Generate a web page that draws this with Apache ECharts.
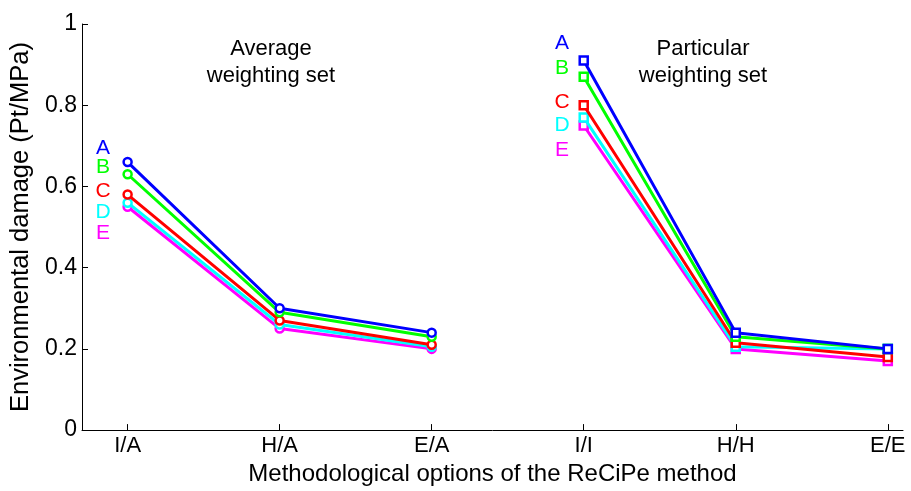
<!DOCTYPE html>
<html><head><meta charset="utf-8">
<script src="https://cdn.jsdelivr.net/npm/echarts@6/dist/echarts.min.js"></script>
<style>html,body{margin:0;padding:0;background:#fff}#c{width:911px;height:491px}</style>
</head><body><div id="c"></div>
<script>
const categories = ['I/A','H/A','E/A','I/I','H/H','E/E'];
const seriesNames = ['A','B','C','D','E'];
const colors = ['#0000ff','#00ff00','#ff0000','#00ffff','#ff00ff'];
// values for Average weighting set (I/A, H/A, E/A)
const avgA = [0.66, 0.30, 0.24];
const avgB = [0.63, 0.29, 0.23];
const avgC = [0.58, 0.27, 0.21];
const avgD = [0.56, 0.26, 0.205];
const avgE = [0.55, 0.25, 0.20];
// values for Particular weighting set (I/I, H/H, E/E)
const parA = [0.91, 0.24, 0.20];
const parB = [0.87, 0.23, 0.20];
const parC = [0.80, 0.215, 0.18];
const parD = [0.77, 0.205, 0.20];
const parE = [0.75, 0.20, 0.17];
const yTicks = [0, 0.2, 0.4, 0.6, 0.8, 1];
const groupTitles = ['Average\nweighting set', 'Particular\nweighting set'];

const avg = [avgA, avgB, avgC, avgD, avgE];
const par = [parA, parB, parC, parD, parE];
const series = [];
[avg, par].forEach((grp, gi) => {
  grp.forEach((vals, i) => {
    series.push({
      type: 'line', name: seriesNames[i] + (gi ? ' particular' : ' average'),
      data: vals.map((v, k) => [gi * 3 + k + 1, v]),
      symbol: gi ? 'rect' : 'circle',
      symbolSize: 8,
      lineStyle: { color: colors[i], width: 3 },
      itemStyle: { color: '#fff', borderColor: colors[i], borderWidth: 2.5 },
      z: 10 - i
    });
  });
});

const chart = echarts.init(document.getElementById('c'), null, { renderer: 'canvas' });
const FF = '"Liberation Sans", Arial, sans-serif';
const letterX = [103, 562];
const letterY = [[148, 167, 191, 212, 233], [43, 68, 102, 125, 150]];
const graphics = [];
letterX.forEach((lx, g) => {
  seriesNames.forEach((n, i) => {
    graphics.push({ type: 'text', x: lx, y: letterY[g][i],
      style: { text: n, fill: colors[i], font: '21px ' + FF, textAlign: 'center', textVerticalAlign: 'middle' } });
  });
});
const titleX = [271, 703];
groupTitles.forEach((t, g) => {
  graphics.push({ type: 'text', x: titleX[g], y: 35,
    style: { text: t, fill: '#000', font: '22px ' + FF, textAlign: 'center', textVerticalAlign: 'top', lineHeight: 27 } });
});

chart.setOption({
  animation: false,
  backgroundColor: '#fff',
  grid: { left: 82, right: 8, top: 24, bottom: 57 },
  xAxis: {
    type: 'value', min: 0.7, max: 6.1,
    name: 'Methodological options of the ReCiPe method',
    nameLocation: 'middle', nameGap: 27,
    nameTextStyle: { fontFamily: FF, fontSize: 24, color: '#000', verticalAlign: 'top' },
    axisLine: { show: true, onZero: false, lineStyle: { color: '#000', width: 1 } },
    axisTick: { show: true, inside: true, length: 6, lineStyle: { color: '#000' }, customValues: [1,2,3,4,5,6] },
    axisLabel: { customValues: [1,2,3,4,5,6], formatter: v => categories[Math.round(v) - 1] || '',
      fontFamily: FF, fontSize: 22, color: '#000', margin: 5 },
    splitLine: { show: false }
  },
  yAxis: {
    type: 'value', min: 0, max: 1, interval: 0.2,
    name: 'Environmental damage (Pt/MPa)', nameLocation: 'middle', nameGap: 43,
    nameTextStyle: { fontFamily: FF, fontSize: 25.5, color: '#000' },
    axisLine: { show: true, lineStyle: { color: '#000', width: 1 } },
    axisTick: { show: true, inside: true, length: 6, lineStyle: { color: '#000' } },
    axisLabel: { formatter: v => String(+v.toFixed(1)), fontFamily: FF, fontSize: 23, color: '#000', margin: 5 },
    splitLine: { show: false }
  },
  graphic: graphics,
  series: series
});
</script></body></html>
